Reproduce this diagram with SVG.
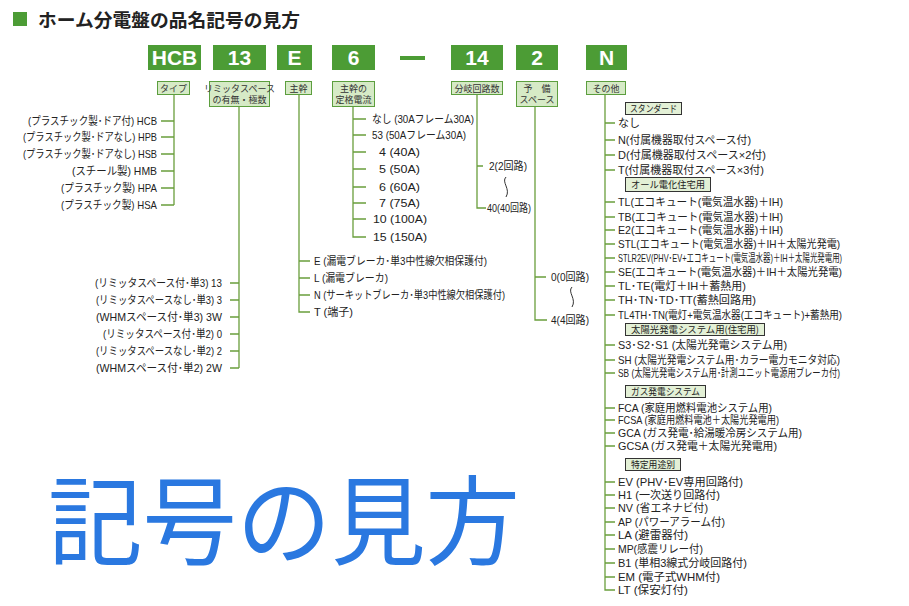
<svg xmlns="http://www.w3.org/2000/svg" width="909" height="606" viewBox="0 0 909 606">
<style>
.code{fill:#4c9c35}
.ct{font-family:"Liberation Sans",Arial,sans-serif;font-weight:bold;font-size:21px;fill:#fff;text-anchor:middle}
.lb{fill:#d6eac6;stroke:#5c9e3e;stroke-width:1}
.lt{font-family:"Noto Sans CJK JP",sans-serif;font-size:9px;fill:#333;text-anchor:middle}
.cat{fill:#e3f0d6;stroke:#333;stroke-width:1}
.catt{font-family:"Noto Sans CJK JP",sans-serif;font-size:9.5px;fill:#222}
.ln{stroke:#6a9e3c;stroke-width:1.3;fill:none}
.t{font-family:"Liberation Sans","Noto Sans CJK JP",sans-serif;font-size:11px;fill:#222}
.te{font-family:"Liberation Sans","Noto Sans CJK JP",sans-serif;font-size:11px;fill:#222;text-anchor:end}
.sq{stroke:#333;stroke-width:1;fill:none}
</style>
<rect width="909" height="606" fill="#fff"/>
<g id="title">
<rect x="13" y="12" width="14" height="14" fill="#4c9c35"/>
<text x="38" y="27" font-family="Noto Sans CJK JP,sans-serif" font-weight="bold" font-size="18.5" fill="#222" textLength="262" lengthAdjust="spacingAndGlyphs">ホーム分電盤の品名記号の見方</text>
</g>
<g id="codes">
<rect class="code" x="148" y="45" width="53" height="25"/><text class="ct" x="174.5" y="65">HCB</text>
<rect class="code" x="213" y="45" width="53" height="25"/><text class="ct" x="239.5" y="65">13</text>
<rect class="code" x="277" y="45" width="35" height="25"/><text class="ct" x="294.5" y="65">E</text>
<rect class="code" x="332" y="45" width="43" height="25"/><text class="ct" x="353.5" y="65">6</text>
<rect class="code" x="400" y="56" width="25" height="4"/>
<rect class="code" x="451" y="45" width="52" height="25"/><text class="ct" x="477" y="65">14</text>
<rect class="code" x="516" y="45" width="42" height="25"/><text class="ct" x="537" y="65">2</text>
<rect class="code" x="586" y="45" width="41" height="25"/><text class="ct" x="606.5" y="65">N</text>
</g>
<g id="labels">
<rect class="lb" x="157.5" y="81.5" width="32" height="13"/><text class="lt" x="173.5" y="91.5">タイプ</text>
<rect class="lb" x="209.5" y="81.5" width="60" height="25"/><text class="lt" x="239.5" y="91.5">リミッタスペース</text><text class="lt" x="239.5" y="103">の有無・極数</text>
<rect class="lb" x="285.5" y="81.5" width="26" height="13"/><text class="lt" x="298.5" y="91.5">主幹</text>
<rect class="lb" x="332.5" y="81.5" width="42" height="25"/><text class="lt" x="353.5" y="91.5">主幹の</text><text class="lt" x="353.5" y="103">定格電流</text>
<rect class="lb" x="451.5" y="81.5" width="51" height="13"/><text class="lt" x="477" y="91.5">分岐回路数</text>
<rect class="lb" x="516.5" y="81.5" width="41" height="25"/><text class="lt" x="537" y="91.5">予　備</text><text class="lt" x="537" y="103">スペース</text>
<rect class="lb" x="586.5" y="81.5" width="39" height="13"/><text class="lt" x="606" y="91.5">その他</text>
</g>
<g id="connectors">
<path class="ln" d="M174,95V205M161,121H174M161,137H174M161,154H174M161,171H174M161,188H174M161,205H174"/>
<path class="ln" d="M239,107V368M230,283H239M230,300H239M230,317H239M230,334H239M230,351H239M230,368H239"/>
<path class="ln" d="M299,95V312H310M299,261H310M299,278H310M299,295H310"/>
<path class="ln" d="M353,107V237H366M353,119H366M353,135H366M353,152H366M353,169H366M353,187H366M353,203H366M353,219H366"/>
<path class="ln" d="M477,95V208H486M477,166H483"/>
<path class="ln" d="M535,107V320H547M535,277H546"/>
<path class="ln" d="M605,95V590H615M605,123H615M605,140H615M605,155H615M605,170H615M605,202H615M605,217H615M605,230H615M605,244H615M605,258H615M605,272H615M605,286H615M605,300H615M605,315H615M605,345H615M605,360H615M605,373H615M605,408H615M605,420H615M605,433H615M605,446H615M605,482H615M605,495H615M605,508H615M605,522H615M605,535H615M605,549H615M605,563H615M605,577H615"/>
<path class="sq" d="M506,177c-5,5 5,12 0,20"/>
<path class="sq" d="M572,287c-5,5 5,12 0,20"/>
</g>
<g id="type-list">
<text class="te" x="157" y="125" textLength="129" lengthAdjust="spacingAndGlyphs">(プラスチック製･ドア付) HCB</text>
<text class="te" x="157" y="141" textLength="134" lengthAdjust="spacingAndGlyphs">(プラスチック製･ドアなし) HPB</text>
<text class="te" x="157" y="158" textLength="134" lengthAdjust="spacingAndGlyphs">(プラスチック製･ドアなし) HSB</text>
<text class="te" x="157" y="175" textLength="85" lengthAdjust="spacingAndGlyphs">(スチール製) HMB</text>
<text class="te" x="157" y="192" textLength="96" lengthAdjust="spacingAndGlyphs">(プラスチック製) HPA</text>
<text class="te" x="157" y="209" textLength="96" lengthAdjust="spacingAndGlyphs">(プラスチック製) HSA</text>
</g>
<g id="limiter-list">
<text class="te" x="222" y="287" textLength="127" lengthAdjust="spacingAndGlyphs">(リミッタスペース付･単3) 13</text>
<text class="te" x="222" y="304" textLength="126" lengthAdjust="spacingAndGlyphs">(リミッタスペースなし･単3) 3</text>
<text class="te" x="222" y="321" textLength="126" lengthAdjust="spacingAndGlyphs">(WHMスペース付･単3) 3W</text>
<text class="te" x="222" y="338" textLength="119" lengthAdjust="spacingAndGlyphs">(リミッタスペース付･単2) 0</text>
<text class="te" x="222" y="355" textLength="126" lengthAdjust="spacingAndGlyphs">(リミッタスペースなし･単2) 2</text>
<text class="te" x="222" y="372" textLength="126" lengthAdjust="spacingAndGlyphs">(WHMスペース付･単2) 2W</text>
</g>
<g id="main-list">
<text class="t" x="314" y="265" textLength="173" lengthAdjust="spacingAndGlyphs">E (漏電ブレーカ･単3中性線欠相保護付)</text>
<text class="t" x="314" y="282" textLength="74" lengthAdjust="spacingAndGlyphs">L (漏電ブレーカ)</text>
<text class="t" x="314" y="299" textLength="191" lengthAdjust="spacingAndGlyphs">N (サーキットブレーカ･単3中性線欠相保護付)</text>
<text class="t" x="314" y="316" textLength="39" lengthAdjust="spacingAndGlyphs">T (端子)</text>
</g>
<g id="rating-list">
<text class="t" x="372" y="123" textLength="102" lengthAdjust="spacingAndGlyphs">なし (30Aフレーム30A)</text>
<text class="t" x="372" y="139" textLength="94" lengthAdjust="spacingAndGlyphs">53 (50Aフレーム30A)</text>
<text class="t" x="379" y="156" textLength="41" lengthAdjust="spacingAndGlyphs">4 (40A)</text>
<text class="t" x="379" y="173" textLength="41" lengthAdjust="spacingAndGlyphs">5 (50A)</text>
<text class="t" x="379" y="191" textLength="41" lengthAdjust="spacingAndGlyphs">6 (60A)</text>
<text class="t" x="379" y="207" textLength="41" lengthAdjust="spacingAndGlyphs">7 (75A)</text>
<text class="t" x="373" y="223" textLength="54" lengthAdjust="spacingAndGlyphs">10 (100A)</text>
<text class="t" x="373" y="241" textLength="54" lengthAdjust="spacingAndGlyphs">15 (150A)</text>
</g>
<g id="branch-list">
<text class="t" x="489" y="170" textLength="38" lengthAdjust="spacingAndGlyphs">2(2回路)</text>
<text class="t" x="487" y="212" textLength="44" lengthAdjust="spacingAndGlyphs">40(40回路)</text>
</g>
<g id="spare-list">
<text class="t" x="551" y="281" textLength="38" lengthAdjust="spacingAndGlyphs">0(0回路)</text>
<text class="t" x="551" y="324" textLength="38" lengthAdjust="spacingAndGlyphs">4(4回路)</text>
</g>
<g id="other-list">
<rect class="cat" x="625.5" y="102.5" width="56" height="12"/><text class="catt" x="630" y="112" textLength="47" lengthAdjust="spacingAndGlyphs">スタンダード</text>
<text class="t" x="618" y="127">なし</text>
<text class="t" x="618" y="144" textLength="133" lengthAdjust="spacingAndGlyphs">N(付属機器取付スペース付)</text>
<text class="t" x="618" y="159" textLength="148" lengthAdjust="spacingAndGlyphs">D(付属機器取付スペース×2付)</text>
<text class="t" x="618" y="174" textLength="146" lengthAdjust="spacingAndGlyphs">T(付属機器取付スペース×3付)</text>
<rect class="cat" x="625.5" y="177.5" width="85" height="14"/><text class="catt" x="631" y="188" textLength="74" lengthAdjust="spacingAndGlyphs">オール電化住宅用</text>
<text class="t" x="618" y="206" textLength="165" lengthAdjust="spacingAndGlyphs">TL(エコキュート(電気温水器)＋IH)</text>
<text class="t" x="618" y="221" textLength="165" lengthAdjust="spacingAndGlyphs">TB(エコキュート(電気温水器)＋IH)</text>
<text class="t" x="618" y="234" textLength="165" lengthAdjust="spacingAndGlyphs">E2(エコキュート(電気温水器)＋IH)</text>
<text class="t" x="618" y="248" textLength="222" lengthAdjust="spacingAndGlyphs">STL(エコキュート(電気温水器)＋IH＋太陽光発電)</text>
<text class="t" x="618" y="262" font-size="8.5" textLength="224" lengthAdjust="spacingAndGlyphs">STLR2EV(PHV･EV+エコキュート(電気温水器)＋IH＋太陽光発電用)</text>
<text class="t" x="618" y="276" textLength="224" lengthAdjust="spacingAndGlyphs">SE(エコキュート(電気温水器)＋IH＋太陽光発電)</text>
<text class="t" x="618" y="290" textLength="128" lengthAdjust="spacingAndGlyphs">TL･TE(電灯＋IH＋蓄熱用)</text>
<text class="t" x="618" y="304" textLength="138" lengthAdjust="spacingAndGlyphs">TH･TN･TD･TT(蓄熱回路用)</text>
<text class="t" x="618" y="319" textLength="224" lengthAdjust="spacingAndGlyphs">TL4TH･TN(電灯+電気温水器(エコキュート)+蓄熱用)</text>
<rect class="cat" x="625.5" y="323.5" width="139" height="12"/><text class="catt" x="631" y="333" textLength="128" lengthAdjust="spacingAndGlyphs">太陽光発電システム用(住宅用)</text>
<text class="t" x="618" y="349" textLength="169" lengthAdjust="spacingAndGlyphs">S3･S2･S1 (太陽光発電システム用)</text>
<text class="t" x="618" y="364" textLength="222" lengthAdjust="spacingAndGlyphs">SH (太陽光発電システム用･カラー電力モニタ対応)</text>
<text class="t" x="618" y="377" font-size="10.5" textLength="222" lengthAdjust="spacingAndGlyphs">SB (太陽光発電システム用･計測ユニット電源用ブレーカ付)</text>
<rect class="cat" x="625.5" y="385.5" width="80" height="12"/><text class="catt" x="631" y="395" textLength="69" lengthAdjust="spacingAndGlyphs">ガス発電システム</text>
<text class="t" x="618" y="412" textLength="154" lengthAdjust="spacingAndGlyphs">FCA (家庭用燃料電池システム用)</text>
<text class="t" x="618" y="424" textLength="161" lengthAdjust="spacingAndGlyphs">FCSA (家庭用燃料電池＋太陽光発電用)</text>
<text class="t" x="618" y="437" textLength="184" lengthAdjust="spacingAndGlyphs">GCA (ガス発電･給湯暖冷房システム用)</text>
<text class="t" x="618" y="450" textLength="159" lengthAdjust="spacingAndGlyphs">GCSA (ガス発電＋太陽光発電用)</text>
<rect class="cat" x="625.5" y="458.5" width="55" height="12"/><text class="catt" x="631" y="468" textLength="44" lengthAdjust="spacingAndGlyphs">特定用途別</text>
<text class="t" x="618" y="486" textLength="125" lengthAdjust="spacingAndGlyphs">EV (PHV･EV専用回路付)</text>
<text class="t" x="618" y="499" textLength="102" lengthAdjust="spacingAndGlyphs">H1 (一次送り回路付)</text>
<text class="t" x="618" y="512" textLength="90" lengthAdjust="spacingAndGlyphs">NV (省エネナビ付)</text>
<text class="t" x="618" y="526" textLength="107" lengthAdjust="spacingAndGlyphs">AP (パワーアラーム付)</text>
<text class="t" x="618" y="539" textLength="70" lengthAdjust="spacingAndGlyphs">LA (避雷器付)</text>
<text class="t" x="618" y="553" textLength="85" lengthAdjust="spacingAndGlyphs">MP(感震リレー付)</text>
<text class="t" x="618" y="567" textLength="129" lengthAdjust="spacingAndGlyphs">B1 (単相3線式分岐回路付)</text>
<text class="t" x="618" y="581" textLength="102" lengthAdjust="spacingAndGlyphs">EM (電子式WHM付)</text>
<text class="t" x="618" y="594" textLength="70" lengthAdjust="spacingAndGlyphs">LT (保安灯付)</text>
</g>
<text x="48" y="557" font-family="Noto Sans CJK JP,sans-serif" font-size="97" fill="#2a78e0" textLength="472" lengthAdjust="spacingAndGlyphs">記号の見方</text>
</svg>
